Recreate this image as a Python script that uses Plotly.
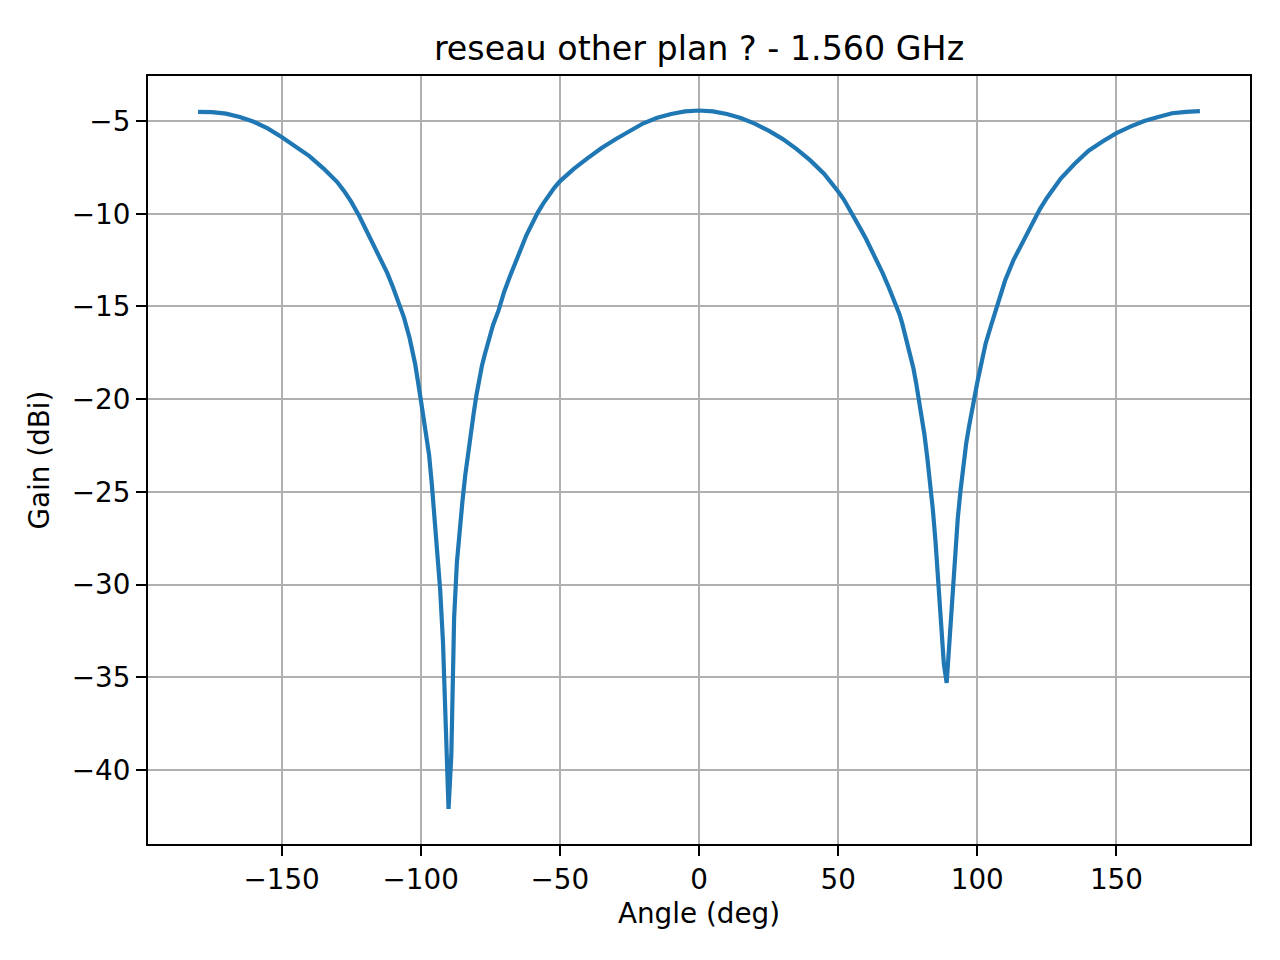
import plotly.graph_objects as go

angles = [-180, -175, -170, -165, -160, -155, -150, -145, -140, -135,
          -130, -127.5, -125, -122, -120, -118, -115, -112, -110, -108, -106,
          -104, -102, -100, -99, -98, -97, -96, -95, -94, -93,
          -92, -91, -90, -89, -88, -87, -86, -85, -84, -83,
          -82, -81, -80, -79, -78, -77, -76, -74, -72, -70,
          -68, -66, -64, -62, -60, -58, -56, -54, -52, -50,
          -47.5, -45, -40, -35, -30, -25, -20, -15, -10, -5, 0,
          5, 10, 15, 20, 25, 30, 35, 40, 45, 47.5, 50,
          52, 54, 56, 58, 60, 62, 64, 66, 68, 70,
          71, 72, 73, 74, 75, 76, 77, 78, 79, 80,
          81, 82, 83, 84, 85, 86, 87, 88, 89, 90,
          91, 92, 93, 94, 95, 96, 97, 98, 99, 100,
          101, 103, 105, 107, 110, 113, 116, 120, 122.5, 125, 127.5, 130,
          135, 140, 145, 150, 155, 160, 165, 170, 175, 180]
gain = [-4.50, -4.52, -4.60, -4.78, -5.04, -5.40, -5.86, -6.35, -6.89, -7.55,
        -8.29, -8.78, -9.35, -10.15, -10.75, -11.35, -12.3, -13.2, -13.95, -14.75, -15.6,
        -16.7, -18.1, -20.0, -20.9, -21.9, -23.0, -24.6, -26.3, -28.1, -30.3,
        -33.1, -37.0, -42.1, -39.2, -31.8, -28.8, -27.0, -25.5, -24.1, -22.9,
        -21.8, -20.8, -19.8, -18.9, -18.2, -17.6, -17.0, -16.0, -15.2, -14.2,
        -13.4, -12.7, -11.9, -11.15, -10.5, -9.95, -9.45, -9.0, -8.6, -8.25,
        -7.9, -7.58, -7.0, -6.45, -5.98, -5.52, -5.12, -4.82, -4.62, -4.48, -4.43,
        -4.48, -4.62, -4.84, -5.14, -5.52, -5.96, -6.5, -7.12, -7.85, -8.3, -8.8,
        -9.22, -9.72, -10.25, -10.8, -11.35, -11.95, -12.55, -13.2, -13.9, -14.6,
        -15.0, -15.4, -15.9, -16.5, -17.0, -17.6, -18.3, -19.1, -20.0, -20.9,
        -21.9, -23.1, -24.4, -25.9, -27.7, -29.8, -32.2, -34.3, -35.3, -33.0,
        -30.7, -28.5, -26.4, -24.9, -23.6, -22.4, -21.5, -20.6, -19.8, -19.1,
        -18.4, -17.0, -16.0, -15.05, -13.6, -12.5, -11.6, -10.4, -9.75, -9.15, -8.6, -8.1,
        -7.3, -6.6, -6.1, -5.65, -5.3, -5.0, -4.78, -4.58, -4.5, -4.46]

x_ticks = [-150, -100, -50, 0, 50, 100, 150]
y_ticks = [-5, -10, -15, -20, -25, -30, -35, -40]

fig = go.Figure(go.Scatter(x=angles, y=gain, mode="lines",
                           line=dict(color="#1f77b4", width=4.2)))

axis_style = dict(showgrid=True, gridcolor="#b0b0b0", gridwidth=2.2,
                  showline=True, linecolor="black", linewidth=2.2, mirror=True,
                  ticks="outside", ticklen=10, tickwidth=2.2, tickcolor="black",
                  zeroline=False, tickfont=dict(size=27.8, color="black"))

# the page adds ~7px around the figure, so margins are shifted by that
fig.update_layout(
    width=1280, height=960,
    margin=dict(l=140, r=38, t=68, b=124),
    paper_bgcolor="white", plot_bgcolor="white",
    font=dict(family="DejaVu Sans", color="black"),
    title=dict(text="reseau other plan ? - 1.560 GHz", x=691 / 1280, xanchor="center",
               y=1 - 40 / 960, yanchor="middle", yref="container",
               font=dict(size=33.3, color="black")),
    showlegend=False,
)
fig.update_xaxes(range=[-198, 198], tickvals=x_ticks,
                 title=dict(text="Angle (deg)", font=dict(size=27.8), standoff=8),
                 **axis_style)
fig.update_yaxes(range=[-43.99, -2.57], tickvals=y_ticks,
                 title=dict(text="Gain (dBi)", font=dict(size=27.8), standoff=14),
                 **axis_style)

fig.write_html("out.html")
